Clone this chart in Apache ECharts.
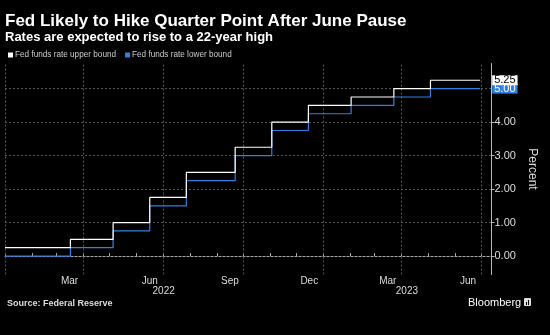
<!DOCTYPE html>
<html>
<head>
<meta charset="utf-8">
<script src="https://cdn.jsdelivr.net/npm/echarts@6/dist/echarts.min.js"></script>
<style>
html,body{margin:0;padding:0;background:#000;}
#chart{width:550px;height:335px;}
</style>
</head>
<body>
<div id="chart"></div>
<script>
// ---- data ----
var changeDates = ['2022-01-01','2022-03-17','2022-05-05','2022-06-16','2022-07-28','2022-09-22','2022-11-03','2022-12-15','2023-02-02','2023-03-23','2023-05-04','2023-06-30'];
var upperBound  = [0.25, 0.50, 1.00, 1.75, 2.50, 3.25, 4.00, 4.50, 4.75, 5.00, 5.25, 5.25];
var lowerBound  = [0.00, 0.25, 0.75, 1.50, 2.25, 3.00, 3.75, 4.25, 4.50, 4.75, 5.00, 5.00];

var monthTickDates = ['2022-01-01','2022-02-01','2022-03-01','2022-04-01','2022-05-01','2022-06-01','2022-07-01','2022-08-01','2022-09-01','2022-10-01','2022-11-01','2022-12-01','2023-01-01','2023-02-01','2023-03-01','2023-04-01','2023-05-01','2023-06-01','2023-07-01'];
var monthLabelDates = ['2022-03-16','2022-06-16','2022-09-16','2022-12-16','2023-03-16','2023-06-16'];
var monthLabels = ['Mar','Jun','Sep','Dec','Mar','Jun'];
var yearLabelDates = ['2022-07-02','2023-04-07'];
var yearLabels = ['2022','2023'];
var vGridDates = ['2022-01-01','2022-04-01','2022-07-01','2022-10-01','2023-01-01','2023-04-01','2023-07-01'];
var yGridValues = [0, 1, 2, 3, 4, 5];
var yLabelValues = [0, 1, 2, 3, 4];
var xMinDate = '2022-01-01', xMaxDate = '2023-07-13';
var yMin = -0.55, yMax = 5.75;

// ---- helpers ----
function t(s){ var p = s.split('-'); return Date.UTC(+p[0], +p[1]-1, +p[2]); }
function pairs(dates, vals){ return dates.map(function(d,i){ return [t(d), vals[i]]; }); }
function lookup(dates, labels){
  var ts = dates.map(t);
  return function(v){ var i = ts.indexOf(v); return i >= 0 ? labels[i] : ''; };
}

var FONT = 'Liberation Sans';
var UP_COLOR = '#ffffff', LO_COLOR = '#2f80e0';

var chart = echarts.init(document.getElementById('chart'), null, {renderer:'canvas'});
var option = {
  backgroundColor: '#000',
  animation: false,
  textStyle: {fontFamily: FONT},
  title: [
    {text: 'Fed Likely to Hike Quarter Point After June Pause', left: 5, top: 13, padding: 0,
     textStyle: {color:'#fff', fontSize: 17, fontWeight:'bold', fontFamily: FONT, lineHeight: 17}},
    {text: 'Rates are expected to rise to a 22-year high', left: 5, top: 31, padding: 0,
     textStyle: {color:'#fff', fontSize: 13, fontWeight:'bold', fontFamily: FONT, lineHeight: 13}},
    {text: 'Source: Federal Reserve', left: 7, top: 299, padding: 0,
     textStyle: {color:'#ddd', fontSize: 9, fontWeight:'bold', fontFamily: FONT, lineHeight: 9}},
    {text: 'Bloomberg', left: 468, top: 297, padding: 0,
     textStyle: {color:'#fff', fontSize: 11, fontWeight:'normal', fontFamily: FONT, lineHeight: 11}}
  ],
  graphic: [
    {type:'rect', shape:{x:524, y:298, width:7, height:8, r:1}, style:{fill:'#ddd'}},
    {type:'rect', shape:{x:526, y:302, width:1, height:3}, style:{fill:'#000'}},
    {type:'rect', shape:{x:528, y:300, width:1, height:5}, style:{fill:'#000'}}
  ],
  legend: {
    data: ['Fed funds rate upper bound', 'Fed funds rate lower bound'],
    left: 8, top: 51, padding: 0,
    icon: 'rect', itemWidth: 5, itemHeight: 5, itemGap: 9,
    textStyle: {color:'#ccc', fontSize: 8.2, fontFamily: FONT, padding:[0,0,0,-3]},
    selectedMode: false
  },
  grid: {left: 5, right: 58.5, top: 63.5, bottom: 60.5, containLabel: false},
  xAxis: [
    {type:'value', min: t(xMinDate), max: t(xMaxDate), position:'bottom',
     axisLine: {show:true, lineStyle:{color:'#aaa', width:1}},
     axisTick: {show:true, inside:true, length:3, lineStyle:{color:'#aaa'}, customValues: monthTickDates.map(t)},
     axisLabel: {show:true, color:'#ddd', fontSize:10, fontFamily: FONT, margin:2, hideOverlap:false,
       showMinLabel:true, showMaxLabel:true,
       customValues: monthLabelDates.map(t), formatter: lookup(monthLabelDates, monthLabels)},
     splitLine: {show:false}},
    {type:'value', min: t(xMinDate), max: t(xMaxDate), position:'bottom',
     axisLine: {show:false}, axisTick:{show:false}, splitLine:{show:false},
     axisLabel: {show:true, color:'#ddd', fontSize:10, fontFamily: FONT, margin:12, hideOverlap:false,
       customValues: yearLabelDates.map(t), formatter: lookup(yearLabelDates, yearLabels)}}
  ],
  yAxis: {
    type:'value', position:'right', min: yMin, max: yMax,
    name: 'Percent', nameLocation:'middle', nameRotate: -90, nameGap: 22,
    nameTextStyle: {color:'#ddd', fontSize: 12, fontFamily: FONT},
    axisLine: {show:true, lineStyle:{color:'#bbb', width:1}},
    axisTick: {show:true, length:3, lineStyle:{color:'#bbb'}, customValues: yLabelValues},
    axisLabel: {show:true, color:'#ddd', fontSize: 11, fontFamily: FONT, margin: 3,
      customValues: yLabelValues, formatter: function(v){ return (+v).toFixed(2); }},
    splitLine: {show:false}
  },
  series: [
    {name:'grid', type:'line', data: [], z: 1, silent: true,
     markLine: {silent:true, z: 1, symbol:['none','none'], label:{show:false}, animation:false,
       lineStyle:{color:'#555', type:[2,2], width:1},
       data: vGridDates.map(function(d){ return {xAxis: t(d)}; })
             .concat(yGridValues.map(function(v){ return {yAxis: v}; }))}},
    {name:'Fed funds rate lower bound', type:'line', step:'end', data: pairs(changeDates, lowerBound),
     showSymbol:false, symbol:'none', z: 3, color: LO_COLOR, lineStyle:{color: LO_COLOR, width:1.2},
     endLabel: {show:true, formatter: function(p){ return p.value[1].toFixed(2); },
       backgroundColor: LO_COLOR, color:'#fff', fontSize:11, lineHeight:10, padding:[0,2,0,2],
       fontFamily: FONT, distance: 0, offset:[12,0]}},
    {name:'Fed funds rate upper bound', type:'line', step:'end', data: pairs(changeDates, upperBound),
     showSymbol:false, symbol:'none', z: 4, color: UP_COLOR, lineStyle:{color: UP_COLOR, width:1.2},
     endLabel: {show:true, formatter: function(p){ return p.value[1].toFixed(2); },
       backgroundColor: '#fff', color:'#000', fontSize:11, lineHeight:10, padding:[0,2,0,2],
       fontFamily: FONT, distance: 0, offset:[12,0]}}
  ]
};
chart.setOption(option);
</script>
</body>
</html>
